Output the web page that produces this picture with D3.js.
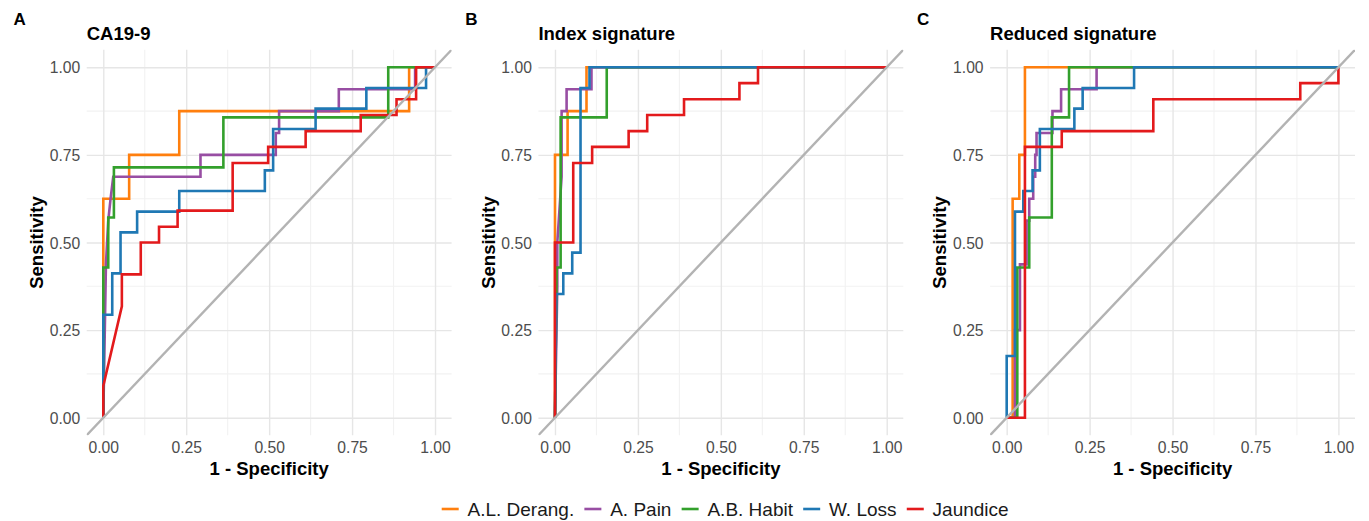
<!DOCTYPE html>
<html>
<head>
<meta charset="utf-8">
<script src="https://cdn.jsdelivr.net/npm/d3@7"></script>
<style>
  html, body { margin: 0; padding: 0; background: #ffffff; }
  svg { display: block; font-family: "Liberation Sans", Arial, Helvetica, sans-serif; }
</style>
</head>
<body>
<svg id="chart" width="1369" height="521"></svg>
<script>
// ---------------- DATA ----------------
const panelTags = ["A", "B", "C"];
const panelTitles = ["CA19-9", "Index signature", "Reduced signature"];
const seriesNames = ["A.L. Derang.", "A. Pain", "A.B. Habit", "W. Loss", "Jaundice"];
const seriesColors = ["#FF7F0E", "#984EA3", "#33A02C", "#1F78B4", "#E31A1C"];
const tickValues = [0, 0.25, 0.5, 0.75, 1];
const tickLabels = ["0.00", "0.25", "0.50", "0.75", "1.00"];
const minorTicks = [0.125, 0.375, 0.625, 0.875];

// ROC points [1 - specificity, sensitivity] — panel A: CA19-9
const ca199_ALDerang = [[0,0],[0,0.625],[0.078,0.625],[0.078,0.75],[0.229,0.75],[0.229,0.875],[0.922,0.875],[0.922,1],[1,1]];
const ca199_APain = [[0,0],[0.008,0.4375],[0.015,0.5625],[0.022,0.625],[0.03,0.6875],[0.293,0.6875],[0.293,0.75],[0.52,0.75],[0.52,0.8125],[0.53,0.8125],[0.53,0.875],[0.71,0.875],[0.71,0.9375],[0.94,0.9375],[0.94,1],[1,1]];
const ca199_ABHabit = [[0,0],[0,0.4286],[0.015,0.4286],[0.015,0.5714],[0.032,0.5714],[0.032,0.7143],[0.362,0.7143],[0.362,0.8571],[0.859,0.8571],[0.859,1],[1,1]];
const ca199_WLoss = [[0,0],[0,0.294],[0.027,0.294],[0.027,0.412],[0.052,0.412],[0.052,0.529],[0.102,0.529],[0.102,0.588],[0.229,0.588],[0.229,0.647],[0.487,0.647],[0.487,0.706],[0.512,0.706],[0.512,0.824],[0.64,0.824],[0.64,0.882],[0.793,0.882],[0.793,0.941],[0.973,0.941],[0.973,1],[1,1]];
const ca199_Jaundice = [[0,0],[0,0.0909],[0.056,0.318],[0.056,0.409],[0.113,0.409],[0.113,0.5],[0.168,0.5],[0.168,0.545],[0.224,0.545],[0.224,0.591],[0.39,0.591],[0.39,0.727],[0.497,0.727],[0.497,0.773],[0.61,0.773],[0.61,0.818],[0.776,0.818],[0.776,0.864],[0.884,0.864],[0.884,0.909],[0.943,0.909],[0.943,1],[1,1]];

// panel B: Index signature
const index_ALDerang = [[0,0],[0,0.75],[0.038,0.75],[0.038,0.875],[0.095,0.875],[0.095,1],[1,1]];
const index_APain = [[0,0],[0.007,0.375],[0.007,0.5],[0.02,0.6875],[0.02,0.875],[0.035,0.875],[0.035,0.9375],[0.11,0.9375],[0.11,1],[1,1]];
const index_ABHabit = [[0,0],[0.005,0.4286],[0.017,0.4286],[0.017,0.8571],[0.156,0.8571],[0.156,1],[1,1]];
const index_WLoss = [[0,0],[0.004,0.353],[0.025,0.353],[0.025,0.412],[0.052,0.412],[0.052,0.471],[0.077,0.471],[0.077,0.941],[0.104,0.941],[0.104,1],[1,1]];
const index_Jaundice = [[0,0],[0,0.5],[0.055,0.5],[0.055,0.727],[0.112,0.727],[0.112,0.773],[0.222,0.773],[0.222,0.818],[0.278,0.818],[0.278,0.864],[0.389,0.864],[0.389,0.909],[0.556,0.909],[0.556,0.955],[0.612,0.955],[0.612,1],[1,1]];

// panel C: Reduced signature
const reduced_ALDerang = [[0,0],[0.018,0],[0.018,0.625],[0.038,0.625],[0.038,0.75],[0.055,0.75],[0.055,1],[1,1]];
const reduced_APain = [[0,0],[0.025,0],[0.025,0.25],[0.04,0.25],[0.04,0.4375],[0.06,0.4375],[0.06,0.5625],[0.068,0.5625],[0.068,0.625],[0.08,0.625],[0.08,0.6875],[0.086,0.6875],[0.086,0.75],[0.09,0.75],[0.09,0.8125],[0.138,0.8125],[0.138,0.875],[0.164,0.875],[0.164,0.9375],[0.271,0.9375],[0.271,1],[1,1]];
const reduced_ABHabit = [[0,0],[0.032,0],[0.032,0.4286],[0.068,0.4286],[0.068,0.5714],[0.136,0.5714],[0.136,0.8571],[0.188,0.8571],[0.188,1],[1,1]];
const reduced_WLoss = [[0,0],[0,0.176],[0.025,0.176],[0.025,0.588],[0.05,0.588],[0.05,0.647],[0.078,0.647],[0.078,0.706],[0.1,0.706],[0.1,0.824],[0.204,0.824],[0.204,0.882],[0.229,0.882],[0.229,0.941],[0.384,0.941],[0.384,1],[1,1]];
const reduced_Jaundice = [[0,0],[0.055,0],[0.055,0.773],[0.166,0.773],[0.166,0.818],[0.442,0.818],[0.442,0.909],[0.885,0.909],[0.885,0.955],[1,0.955],[1,1]];

const panelSeries = [
  [ca199_ALDerang, ca199_APain, ca199_ABHabit, ca199_WLoss, ca199_Jaundice],
  [index_ALDerang, index_APain, index_ABHabit, index_WLoss, index_Jaundice],
  [reduced_ALDerang, reduced_APain, reduced_ABHabit, reduced_WLoss, reduced_Jaundice]
];

// ---------------- LAYOUT ----------------
const svg = d3.select("#chart");
const panelStep = 451.7;
const panelLeft0 = 86.7;
const panelW = 364.9;
const panelTop = 49.8;
const panelH = 385.4;

const defs = svg.append("defs");

panelTags.forEach((tag, i) => {
  const left = panelLeft0 + i * panelStep;
  const x = d3.scaleLinear().domain([-0.05, 1.05]).range([left, left + panelW]);
  const y = d3.scaleLinear().domain([-0.05, 1.05]).range([panelTop + panelH, panelTop]);

  defs.append("clipPath").attr("id", "clip" + i)
    .append("rect").attr("x", left).attr("y", panelTop).attr("width", panelW).attr("height", panelH);

  const g = svg.append("g");

  // minor grid
  g.selectAll(".minx").data(minorTicks).join("line")
    .attr("x1", d => x(d)).attr("x2", d => x(d))
    .attr("y1", panelTop).attr("y2", panelTop + panelH)
    .attr("stroke", "#f2f2f2").attr("stroke-width", 1.1);
  g.selectAll(".miny").data(minorTicks).join("line")
    .attr("y1", d => y(d)).attr("y2", d => y(d))
    .attr("x1", left).attr("x2", left + panelW)
    .attr("stroke", "#f2f2f2").attr("stroke-width", 1.1);

  // axes (major grid + labels) via d3 axes
  const xAxis = d3.axisBottom(x).tickValues(tickValues).tickFormat((d, k) => tickLabels[k])
    .tickSize(-panelH).tickPadding(7);
  const gx = g.append("g").attr("transform", `translate(0,${panelTop + panelH})`).call(xAxis);
  gx.select(".domain").remove();
  gx.selectAll(".tick line").attr("stroke", "#e6e6e6").attr("stroke-width", 1.4);
  gx.selectAll(".tick text").attr("fill", "#4d4d4d").attr("font-size", "15.7px")
    .attr("dy", "0").attr("y", 18.3);

  const yAxis = d3.axisLeft(y).tickValues(tickValues).tickFormat((d, k) => tickLabels[k])
    .tickSize(-panelW).tickPadding(6.5);
  const gy = g.append("g").attr("transform", `translate(${left},0)`).call(yAxis);
  gy.select(".domain").remove();
  gy.selectAll(".tick line").attr("stroke", "#e6e6e6").attr("stroke-width", 1.4);
  gy.selectAll(".tick text").attr("fill", "#4d4d4d").attr("font-size", "15.7px").attr("dy", "0.36em");

  // curves
  const line = d3.line().x(d => x(d[0])).y(d => y(d[1]));
  const cg = g.append("g").attr("clip-path", `url(#clip${i})`);
  panelSeries[i].forEach((pts, s) => {
    cg.append("path").datum(pts)
      .attr("d", line)
      .attr("fill", "none")
      .attr("stroke", seriesColors[s])
      .attr("stroke-width", 2.6)
      .attr("stroke-linejoin", "miter");
  });

  // diagonal reference
  cg.append("line")
    .attr("x1", x(-0.05)).attr("y1", y(-0.05))
    .attr("x2", x(1.05)).attr("y2", y(1.05))
    .attr("stroke", "#b3b3b3").attr("stroke-width", 2.4);

  // titles
  svg.append("text").attr("x", 13.5 + i * panelStep).attr("y", 24.5)
    .attr("font-size", "17px").attr("font-weight", "bold").attr("fill", "#000").text(tag);
  svg.append("text").attr("x", left).attr("y", 40)
    .attr("font-size", "18.5px").attr("font-weight", "bold").attr("fill", "#000").text(panelTitles[i]);

  // axis titles
  svg.append("text").attr("x", left + panelW / 2).attr("y", 475)
    .attr("text-anchor", "middle").attr("font-size", "18.5px").attr("font-weight", "bold")
    .attr("fill", "#000").text("1 - Specificity");
  svg.append("text")
    .attr("transform", `translate(${43 + i * panelStep},${panelTop + panelH / 2}) rotate(-90)`)
    .attr("text-anchor", "middle").attr("font-size", "18.5px").attr("font-weight", "bold")
    .attr("fill", "#000").text("Sensitivity");
});

// ---------------- LEGEND ----------------
const legend = svg.append("g");
let lx = 441.7;
const ly = 509;
seriesNames.forEach((name, s) => {
  legend.append("line").attr("x1", lx).attr("x2", lx + 17).attr("y1", ly).attr("y2", ly)
    .attr("stroke", seriesColors[s]).attr("stroke-width", 2.6);
  const t = legend.append("text").attr("x", lx + 25.8).attr("y", ly).attr("dy", "0.36em")
    .attr("font-size", "19px").attr("fill", "#1a1a1a").text(name);
  lx = lx + 25.8 + t.node().getComputedTextLength() + 10.2;
});
</script>
</body>
</html>
